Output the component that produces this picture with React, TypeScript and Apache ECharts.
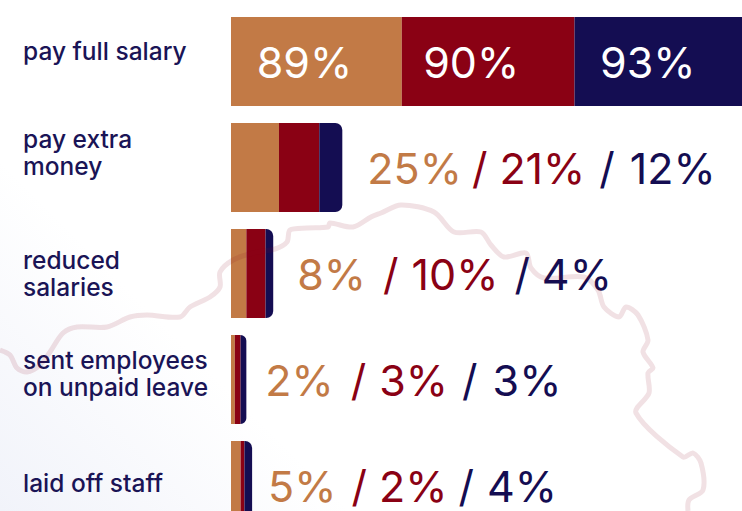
import React, { useEffect, useRef } from "react";
import * as echarts from "echarts";

const categories = ["pay full salary", "pay extra\nmoney", "reduced\nsalaries", "sent employees\non unpaid leave", "laid off staff"];
const seriesA = [89, 25, 8, 2, 5];
const seriesB = [90, 21, 10, 3, 2];
const seriesC = [93, 12, 4, 3, 4];

const COLORS = ["#c27a46", "#8a0114", "#140d52"];
const FONT = "Inter, sans-serif";
const labelLift = [22, 30, 0, 12, 6];
const rowGaps = [
  [0, 0, 0, 0],
  [10, 12, 14, 15],
  [17, 13, 16, 12],
  [17, 13, 14, 15],
  [15, 12, 11, 13],
];
const rowDistance = [0, 25, 24, 19, 16];
const contour = [
  [0, 350], [10, 355], [17, 368], [27, 372], [40, 365], [50, 352], [63, 333], [77, 327], [107, 327], [130, 317],
  [147, 315], [180, 317], [190, 307], [210, 297], [220, 287], [220, 272], [233, 260], [253, 253], [275, 249], [287, 242],
  [290, 230], [307, 228], [328, 227], [330, 223], [353, 227], [371, 217], [381, 213], [401, 205], [434, 212], [454, 232],
  [481, 232], [491, 245], [504, 257], [526, 253], [531, 268], [544, 278], [584, 277], [598, 290], [604, 307], [619, 317],
  [626, 307], [638, 315], [648, 340], [643, 352], [653, 368], [648, 373], [649, 393], [636, 413], [683, 457], [693, 453],
  [701, 463], [703, 490], [689, 500], [688, 511],
];

export default function App() {
  const ref = useRef<HTMLDivElement>(null);
  useEffect(() => {
    document.body.style.margin = "0";
    const chart = echarts.init(ref.current!, undefined, { renderer: "svg" });
    const big = { fontFamily: FONT, fontSize: 43, fontWeight: 400 };
    const rich: any = {
      a: { ...big, color: COLORS[0] },
      b: { ...big, color: COLORS[1] },
      c: { ...big, color: COLORS[2] },
    };
    rowGaps.flat().forEach((w) => { rich["g" + w] = { width: w, fontSize: 10 }; });
    const inside = (v: number, off: number) => ({
      value: v,
      label: { show: true, position: "inside", offset: [off, 0], formatter: "{c}%", color: "#fff", ...big },
    });
    const axisRich: any = { s: { fontFamily: FONT, fontSize: 24.5, fontWeight: 500, color: "#1a1456", lineHeight: 27 } };
    labelLift.forEach((h) => { axisRich["h" + h] = { height: h, lineHeight: h, fontSize: 1 }; });
    chart.setOption({
      animation: false,
      backgroundColor: "transparent",
      grid: { left: 231, top: 8.5, width: 522, height: 530, containLabel: false },
      xAxis: { type: "value", min: 0, max: 272, show: false },
      yAxis: {
        type: "category", inverse: true, data: categories,
        axisLine: { show: false }, axisTick: { show: false }, splitLine: { show: false },
        axisLabel: {
          interval: 0, align: "left", margin: 208,
          formatter: (v: string) => {
            const i = categories.indexOf(v);
            const t = v.split("\n").map((s) => `{s|${s}}`).join("\n");
            return labelLift[i] ? `${t}\n{h${labelLift[i]}| }` : t;
          },
          rich: axisRich,
        },
      },
      series: [
        { type: "bar", stack: "t", barWidth: 89, itemStyle: { color: COLORS[0] },
          data: seriesA.map((v, i) => (i === 0 ? inside(v, -12) : v)) },
        { type: "bar", stack: "t", barWidth: 89, itemStyle: { color: COLORS[1] },
          data: seriesB.map((v, i) => (i === 0 ? inside(v, -17) : v)) },
        { type: "bar", stack: "t", barWidth: 89, itemStyle: { color: COLORS[2], borderRadius: [0, 7, 7, 0] },
          data: seriesC.map((v, i) => {
            if (i === 0) return inside(v, -16);
            const g = rowGaps[i];
            return {
              value: v,
              label: {
                show: true, position: "right", distance: rowDistance[i], rich,
                formatter: `{a|${seriesA[i]}%}{g${g[0]}| }{b|/}{g${g[1]}| }{b|${seriesB[i]}%}{g${g[2]}| }{c|/}{g${g[3]}| }{c|${v}%}`,
              },
            };
          }) },
      ],
      graphic: [{
        type: "polyline", z: 5, silent: true,
        shape: { points: contour, smooth: 0.3 },
        style: { stroke: "rgba(139,10,30,0.12)", lineWidth: 5, fill: "none" },
      }],
    });
    return () => chart.dispose();
  }, []);
  return (
    <div
      style={{
        position: "relative", width: 742, height: 511, overflow: "hidden",
        background: "linear-gradient(45deg, #f1f3fa 0%, #ffffff 28%)",
      }}
    >
      <div ref={ref} style={{ width: 770, height: 550 }} />
    </div>
  );
}
